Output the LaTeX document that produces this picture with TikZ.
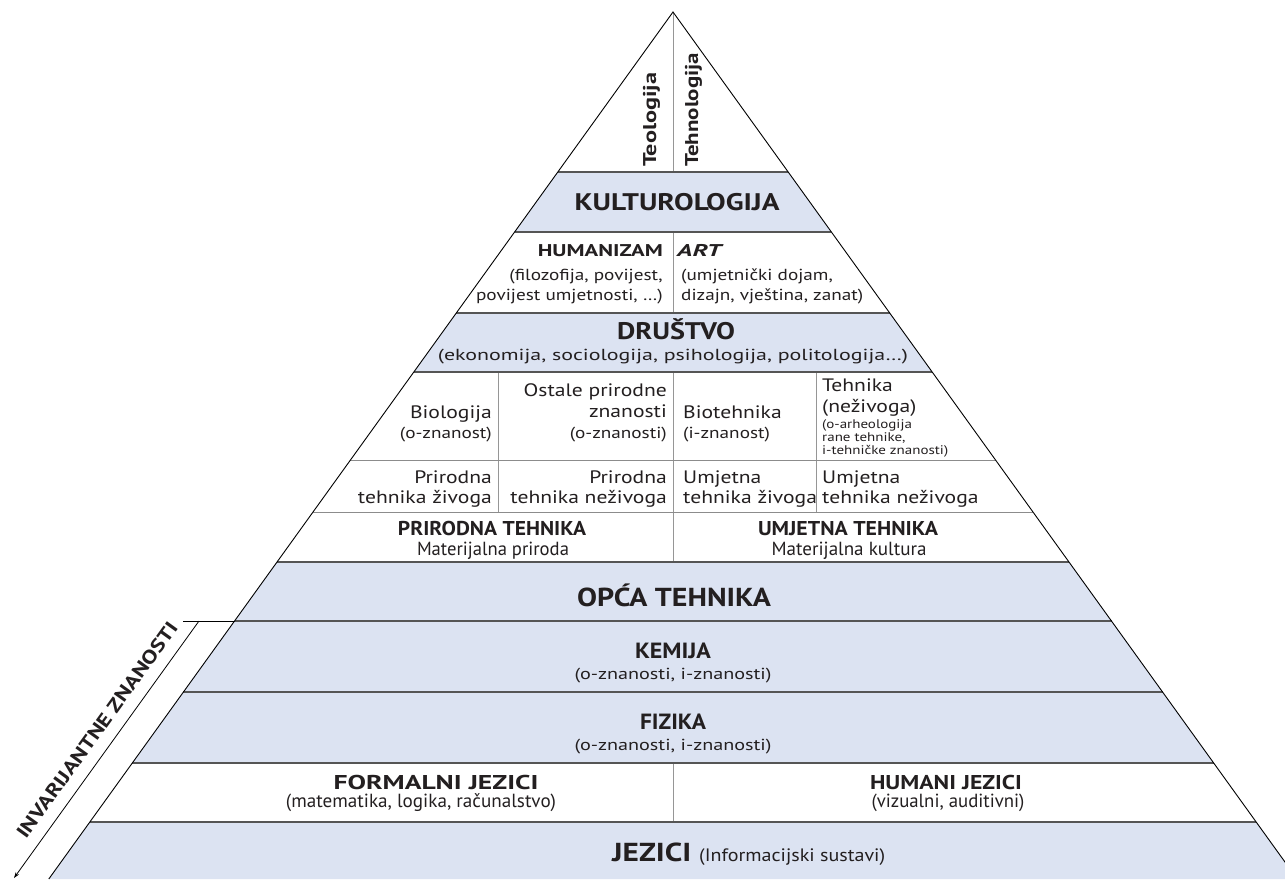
\documentclass[tikz,border=0pt]{standalone}
\usepackage{fontspec}
\usepackage{graphicx}
\setmainfont[FakeStretch=1.2]{PT Sans}
\newfontfamily\plainf{PT Sans}
\usetikzlibrary{arrows.meta}
\definecolor{bandblue}{RGB}{220,227,242}
\definecolor{txt}{RGB}{35,31,32}
\definecolor{sepgray}{RGB}{85,85,85}
\definecolor{lightsep}{RGB}{140,140,140}
\definecolor{divgray}{RGB}{150,150,150}
\newcommand{\fitto}[2]{\resizebox{#1pt}{\height}{#2}}
\begin{document}
\begin{tikzpicture}[x=1pt,y=-1pt,
  lbl/.style={inner sep=0pt,text=txt},
  bigb/.style={lbl,font=\plainf\bfseries\fontsize{24}{28}\selectfont},
  midb/.style={lbl,font=\plainf\bfseries\fontsize{22}{26}\selectfont},
  smallb/.style={lbl,font=\plainf\bfseries\fontsize{17}{20}\selectfont},
  body/.style={lbl,font=\fontsize{18}{22}\selectfont},
  sub/.style={lbl,font=\fontsize{16}{20}\selectfont},
  tiny/.style={lbl,font=\fontsize{12.5}{14}\selectfont},
  condb/.style={lbl,font=\plainf\bfseries\fontsize{20}{24}\selectfont},
  condbig/.style={lbl,font=\plainf\bfseries\fontsize{26}{30}\selectfont},
  condr/.style={lbl,font=\plainf\fontsize{19}{23}\selectfont},
  sep/.style={draw=sepgray,line width=1.3pt},
  lsep/.style={draw=lightsep,line width=1pt},
  divider/.style={draw=divgray,line width=1pt},
  edge/.style={draw=black,line width=0.9pt},
]
\useasboundingbox (0,0) rectangle (1285,879);
\clip (0,0) rectangle (1285,879);
\fill[white] (0,0) rectangle (1285,879);
% blue bands
\fill[bandblue] (557.8,172) -- (788.2,172) -- (831.4,232) -- (514.6,232) -- cycle;
\fill[bandblue] (456.3,313) -- (889.7,313) -- (932.2,372) -- (413.8,372) -- cycle;
\fill[bandblue] (277,562) -- (1069,562) -- (1213.7,763) -- (132.3,763) -- cycle;
\fill[bandblue] (89.8,822) -- (1256.2,822) -- (1297.2,879) -- (48.8,879) -- cycle;
% vertical dividers
\draw[divider] (673,12) -- (673,172);
\draw[divider] (673,232) -- (673,313);
\draw[divider] (673,372) -- (673,562);
\draw[divider] (498,372) -- (498,512);
\draw[divider] (816,372) -- (816,512);
\draw[divider] (673,763) -- (673,822);
% horizontal separators
\draw[sep] (557.8,172) -- (788.2,172);
\draw[sep] (514.6,232) -- (831.4,232);
\draw[sep] (456.3,313) -- (889.7,313);
\draw[sep] (413.8,372) -- (932.2,372);
\draw[lsep] (350.4,460) -- (995.6,460);
\draw[lsep] (313,512) -- (1033,512);
\draw[sep] (277,562) -- (1069,562);
\draw[sep] (234.5,621) -- (1111.5,621);
\draw[sep] (183.4,692) -- (1162.6,692);
\draw[sep] (132.3,763) -- (1213.7,763);
\draw[sep] (89.8,822) -- (1256.2,822);
% outline
\coordinate (apex) at (673,12);
\coordinate (bl) at (48.8,879);
\coordinate (br) at (1297.2,879);
\draw[edge] (bl) -- (apex) -- (br);
% invariant bracket
\coordinate (tickL) at (183,621);
\coordinate (tickR) at (234.5,621);
\coordinate (invTop) at (199,621);
\coordinate (invEnd) at (14,878);
\draw[black,line width=0.8pt] (tickL) -- (tickR);
\draw[black,line width=0.8pt,-{Stealth[length=6pt,width=4pt]}] (invTop) -- (invEnd);
\node[lbl,font=\plainf\bfseries\fontsize{19}{22}\selectfont,rotate=54.2] (inv) at (97,730) {\fitto{261}{INVARIJANTNE ZNANOSTI}};
% top triangle
\node[lbl,font=\plainf\bfseries\fontsize{18.5}{22}\selectfont,rotate=90,anchor=base west] (teo) at (656,167) {\fitto{94}{Teologija}};
\node[lbl,font=\plainf\bfseries\fontsize{18.5}{22}\selectfont,rotate=90,anchor=base west] (teh) at (698,167) {\fitto{114}{Tehnologija}};
% kulturologija
\node[bigb,anchor=base] (kult) at (677,210) {\fitto{205}{KULTUROLOGIJA}};
% humanizam / art
\node[smallb,anchor=base east] (hum) at (663,256) {\fitto{125}{HUMANIZAM}};
\node[sub,anchor=base east] (hum2) at (663,280) {(filozofija, povijest,};
\node[sub,anchor=base east] (hum3) at (663,300) {povijest umjetnosti, \ldots)};
\node[smallb,anchor=base west] (art) at (677,256) {\fitto{44}{\itshape ART}};
\node[sub,anchor=base west] (art2) at (681,280) {(umjetnički dojam,};
\node[sub,anchor=base west] (art3) at (681,300) {dizajn, vještina, zanat)};
% drustvo
\node[bigb,anchor=base] (dru) at (676,339) {\fitto{118}{DRUŠTVO}};
\node[sub,anchor=base] (dru2) at (673,360) {\fitto{470}{(ekonomija, sociologija, psihologija, politologija\ldots)}};
% biologija row
\node[body,anchor=base east] (bio) at (492,418) {Biologija};
\node[sub,anchor=base east] (bio2) at (492,438) {(o-znanost)};
\node[body,anchor=base east] (ost) at (667,396) {Ostale prirodne};
\node[body,anchor=base east] (ost2) at (667,417) {znanosti};
\node[sub,anchor=base east] (ost3) at (667,438) {(o-znanosti)};
\node[body,anchor=base west] (biot) at (683,418) {Biotehnika};
\node[sub,anchor=base west] (biot2) at (683,438) {(i-znanost)};
\node[body,anchor=base west] (tehn) at (822,391) {Tehnika};
\node[body,anchor=base west] (tehn2) at (822,412) {(neživoga)};
\node[tiny,anchor=base west] (tehn3) at (822,428) {(o-arheologija};
\node[tiny,anchor=base west] (tehn4) at (822,441) {rane tehnike,};
\node[tiny,anchor=base west] (tehn5) at (822,454) {i-tehničke znanosti)};
% prirodna row
\node[body,anchor=base east] (pr1) at (492,483) {Prirodna};
\node[body,anchor=base east] (pr1b) at (492,503) {tehnika živoga};
\node[body,anchor=base east] (pr2) at (667,483) {Prirodna};
\node[body,anchor=base east] (pr2b) at (667,503) {tehnika neživoga};
\node[body,anchor=base west] (um1) at (683,483) {Umjetna};
\node[body,anchor=base west] (um1b) at (683,503) {tehnika živoga};
\node[body,anchor=base west] (um2) at (822,483) {Umjetna};
\node[body,anchor=base west] (um2b) at (822,503) {tehnika neživoga};
% prirodna / umjetna tehnika
\node[condb,anchor=base] (prt) at (492,535) {\fitto{188}{PRIRODNA TEHNIKA}};
\node[condr,anchor=base] (prt2) at (493,555) {\fitto{152}{Materijalna priroda}};
\node[condb,anchor=base] (umt) at (848,535) {\fitto{180}{UMJETNA TEHNIKA}};
\node[condr,anchor=base] (umt2) at (849,555) {\fitto{155}{Materijalna kultura}};
% opca tehnika
\node[condbig,anchor=base] (opca) at (674,606) {\fitto{194}{OPĆA TEHNIKA}};
% kemija
\node[midb,anchor=base] (kem) at (673,658) {\fitto{76}{KEMIJA}};
\node[sub,anchor=base] (kem2) at (673,679) {\fitto{197}{(o-znanosti, i-znanosti)}};
% fizika
\node[midb,anchor=base] (fiz) at (673,729) {\fitto{66}{FIZIKA}};
\node[sub,anchor=base] (fiz2) at (673,750) {\fitto{197}{(o-znanosti, i-znanosti)}};
% jezici
\node[condb,anchor=base] (form) at (436,789) {\fitto{205}{FORMALNI JEZICI}};
\node[condr,anchor=base] (form2) at (421,807) {\fitto{270}{(matematika, logika, računalstvo)}};
\node[condb,anchor=base] (hj) at (946,789) {\fitto{152}{HUMANI JEZICI}};
\node[condr,anchor=base] (hj2) at (948,807) {\fitto{153}{(vizualni, auditivni)}};
\node[condbig,anchor=base west] (jez) at (612,861) {\fitto{79}{JEZICI}};
\node[lbl,font=\plainf\fontsize{18}{21}\selectfont,anchor=base west] (jez2) at (699,861) {\fitto{186}{(Informacijski sustavi)}};
\end{tikzpicture}
\end{document}
